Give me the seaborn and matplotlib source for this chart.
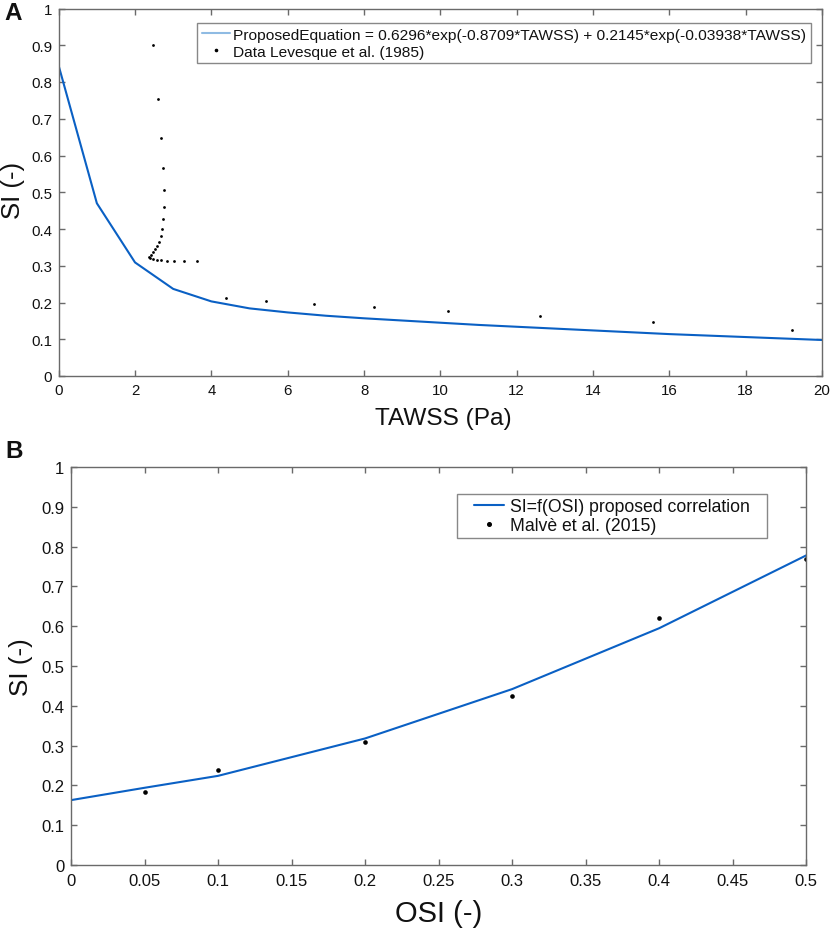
import numpy as np
import pandas as pd
import matplotlib
matplotlib.use("Agg")
import matplotlib.pyplot as plt
from matplotlib.lines import Line2D
from matplotlib.path import Path
import seaborn as sns

# ---------------- Data panel A ----------------
tawss_fit = [0, 1, 2, 3, 4, 5, 6, 7, 8, 9, 10, 11, 12, 13, 14, 15, 16, 17, 18, 19, 20]
si_fit = [0.844, 0.470, 0.309, 0.237, 0.203, 0.184, 0.173, 0.164, 0.157, 0.151,
          0.145, 0.139, 0.134, 0.129, 0.124, 0.119, 0.114, 0.110, 0.106, 0.102, 0.098]

tawss_data = [2.48, 2.60, 2.69, 2.73, 2.76, 2.76, 2.74, 2.71, 2.67, 2.62, 2.57, 2.52,
              2.46, 2.41, 2.36, 2.39, 2.48, 2.57, 2.69, 2.83, 3.02, 3.28, 3.62,
              4.39, 5.42, 6.69, 8.27, 10.20, 12.62, 15.56, 19.21]
si_data = [0.902, 0.755, 0.647, 0.567, 0.505, 0.460, 0.426, 0.400, 0.381, 0.365, 0.354, 0.345,
           0.338, 0.330, 0.325, 0.321, 0.319, 0.317, 0.315, 0.314, 0.313, 0.312, 0.312,
           0.211, 0.205, 0.197, 0.187, 0.176, 0.162, 0.146, 0.126]

# ---------------- Data panel B ----------------
osi_fit = [0.0, 0.05, 0.1, 0.2, 0.3, 0.4, 0.5]
si_osi_fit = [0.163, 0.194, 0.224, 0.318, 0.442, 0.595, 0.778]

osi_data = [0.05, 0.1, 0.2, 0.3, 0.4, 0.5]
si_osi_data = [0.184, 0.239, 0.309, 0.424, 0.620, 0.770]

label_fit_a = "ProposedEquation = 0.6296*exp(-0.8709*TAWSS) + 0.2145*exp(-0.03938*TAWSS)"
label_data_a = "Data Levesque et al. (1985)"
label_fit_b = "SI=f(OSI) proposed correlation"
label_data_b = "Malvè et al. (2015)"

xticks_a = list(range(0, 21, 2))
xticklabels_a = [str(v) for v in xticks_a]
xticks_b = [0, 0.05, 0.1, 0.15, 0.2, 0.25, 0.3, 0.35, 0.4, 0.45, 0.5]
xticklabels_b = ["0", "0.05", "0.1", "0.15", "0.2", "0.25", "0.3", "0.35", "0.4", "0.45", "0.5"]
yticks = [0, 0.1, 0.2, 0.3, 0.4, 0.5, 0.6, 0.7, 0.8, 0.9, 1]
yticklabels = ["0", "0.1", "0.2", "0.3", "0.4", "0.5", "0.6", "0.7", "0.8", "0.9", "1"]

sns.set_theme(style="ticks")
plt.rcParams['font.family'] = ['Liberation Sans', 'DejaVu Sans']

LINE = "#0a60c4"
LEG_LINE = "#8fbbe3"
SPINE = "#6a6a6a"
TXT = "#111111"

W, H = 833, 929
fig = plt.figure(figsize=(W / 100, H / 100), dpi=100)
# axes rectangles in pixels: left, right, top, bottom
A = (58.7, 822.0, 9.5, 377.0)
B = (71.0, 806.3, 468.0, 866.0)


def rect(p):
    l, r, t, b = p
    return [l / W, 1 - b / H, (r - l) / W, (b - t) / H]


axA = fig.add_axes(rect(A))
axB = fig.add_axes(rect(B))

dfA_fit = pd.DataFrame({"x": tawss_fit, "y": si_fit})
dfA_dat = pd.DataFrame({"x": tawss_data, "y": si_data})
dfB_fit = pd.DataFrame({"x": osi_fit, "y": si_osi_fit})
dfB_dat = pd.DataFrame({"x": osi_data, "y": si_osi_data})

sns.lineplot(data=dfA_fit, x="x", y="y", ax=axA, color=LINE, lw=1.5, sort=False)
sns.scatterplot(data=dfA_dat, x="x", y="y", ax=axA, color="black", s=4, linewidth=0)

sns.lineplot(data=dfB_fit, x="x", y="y", ax=axB, color=LINE, lw=1.5, sort=False)
sns.scatterplot(data=dfB_dat, x="x", y="y", ax=axB, color="black", s=11, linewidth=0)


def style(ax, xlim, xt, xtl, tick_fs, xpad):
    ax.set_xlim(*xlim)
    ax.set_ylim(0, 1)
    ax.set_xticks(xt)
    ax.set_xticklabels(xtl)
    ax.set_yticks(yticks)
    ax.set_yticklabels(yticklabels)
    ax.tick_params(direction="in", top=True, right=True, length=4.5, width=1,
                   color=SPINE, labelsize=tick_fs, labelcolor=TXT)
    ax.tick_params(axis="x", pad=xpad)
    ax.tick_params(axis="y", pad=4.8)
    for s in ax.spines.values():
        s.set_visible(True)
        s.set_color(SPINE)
        s.set_linewidth(1.0)


style(axA, (0, 20), xticks_a, xticklabels_a, 10.8, 5.0)
style(axB, (0, 0.5), xticks_b, xticklabels_b, 12.0, 5.5)


def labels(ax, xlabel, xfs, xpos, ylabel, yfs, ypos):
    ax.set_xlabel(xlabel, fontsize=xfs, color=TXT)
    ax.xaxis.set_label_coords(*xpos)
    ax.xaxis.label.set_verticalalignment("center")
    ax.set_ylabel(ylabel, fontsize=yfs, color=TXT)
    ax.yaxis.set_label_coords(*ypos)
    ax.yaxis.label.set_verticalalignment("center")


def ax_coords(p, px, py):
    l, r, t, b = p
    return ((px - l) / (r - l), (b - py) / (b - t))


labels(axA, "TAWSS (Pa)", 17.6, ax_coords(A, 443, 418.5), "SI (-)", 18.5, ax_coords(A, 13, 190))
labels(axB, "OSI (-)", 21, ax_coords(B, 439, 914), "SI (-)", 18.8, ax_coords(B, 21, 667))


class HPadBox:
    """Rectangular legend frame with extra horizontal padding (MATLAB-like)."""
    def __init__(self, hpad):
        self.hpad = hpad

    def __call__(self, x0, y0, width, height, mutation_size):
        hp = self.hpad * mutation_size
        x1, y1 = x0 + width, y0 + height
        return Path([(x0 - hp, y0), (x1 + hp, y0), (x1 + hp, y1), (x0 - hp, y1), (x0 - hp, y0)],
                    closed=True)


hA = [Line2D([], [], color=LEG_LINE, lw=1.5),
      Line2D([], [], color="black", marker="o", ms=1.6, lw=0)]
legA = axA.legend(hA, [label_fit_a, label_data_a], loc="upper right",
                  bbox_to_anchor=ax_coords(A, 811, 24), fontsize=11.15, frameon=True,
                  fancybox=False, edgecolor=SPINE, handlelength=1.85, handletextpad=0.2,
                  borderpad=0.3, labelspacing=0.2, borderaxespad=0)
legA.get_frame().set_linewidth(1.0)
for t in legA.get_texts():
    t.set_color(TXT)

fsB = 12.7
fsB_px = fsB * 100 / 72
bpB = 0.22
extraB = 17.0 - bpB * fsB_px
hpadB = extraB / fsB_px
hB = [Line2D([], [], color=LINE, lw=1.5),
      Line2D([], [], color="black", marker="o", ms=2.6, lw=0)]
legB = axB.legend(hB, [label_fit_b, label_data_b], loc="upper right",
                  bbox_to_anchor=ax_coords(B, 767 - extraB, 495), fontsize=fsB, frameon=True,
                  fancybox=False, edgecolor=SPINE, handlelength=1.7, handletextpad=0.34,
                  borderpad=bpB, labelspacing=0.11, borderaxespad=0)
legB.get_frame().set_linewidth(1.0)
legB.get_frame().set_boxstyle(HPadBox(hpadB))
for t in legB.get_texts():
    t.set_color(TXT)

fig.text(13 / W, 1 - 14 / H, "A", fontsize=17.5, fontweight="bold", va="center", ha="center",
         color=TXT)
fig.text(14 / W, 1 - 451 / H, "B", fontsize=17.5, fontweight="bold", va="center", ha="center",
         color=TXT)

fig.savefig("out.png", dpi=100)
